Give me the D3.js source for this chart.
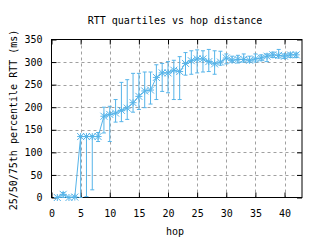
<!DOCTYPE html>
<html><head><meta charset="utf-8">
<script src="https://cdn.jsdelivr.net/npm/d3@7"></script>
<style>html,body{margin:0;padding:0;background:#fff;}svg{display:block;}</style>
</head><body>
<svg id="c" width="320" height="240"></svg>
<script>
const hops = d3.range(1, 43);
const median = [0,7,0,1,135,135,135,135,180,184,187,193,198,210,224,236,238,266,276,276,282,279,297,303,307,307,301,296,300,309,304,306,306,304,307,309,313,316,315,313,316,316];
const q1 = [0,0,0,0,0,2,17,124,143,124,167,168,173,189,195,199,207,217,235,232,217,217,271,273,276,278,279,273,293,296,300,298,300,300,300,303,301,310,309,308,310,310];
const q3 = [0,11,0,3,136,136,137,144,200,202,217,255,261,275,275,278,278,294,297,301,304,312,321,325,327,325,328,325,324,318,313,315,318,313,318,316,318,322,328,318,320,320];
const xTicks = [0,5,10,15,20,25,30,35,40];
const yTicks = [0,50,100,150,200,250,300,350];

const L = 51.5, R = 302, T = 39.5, B = 197.5;
const svg = d3.select("#c");
const font = "'DejaVu Sans Mono', monospace";
const x = d3.scaleLinear().domain([0, 43]).range([L, R]);
const y = d3.scaleLinear().domain([0, 350]).range([B, T]);
const col = "#56b4e9";

// grid
const g = svg.append("g");
g.selectAll(".gx").data(xTicks.filter(d => d > 0)).enter().append("line")
  .attr("x1", d => Math.round(x(d)) + 0.5).attr("x2", d => Math.round(x(d)) + 0.5)
  .attr("y1", T).attr("y2", B)
  .attr("stroke", "#a0a0a0").attr("stroke-dasharray", "3,3");
g.selectAll(".gy").data(yTicks.filter(d => d > 0 && d < 350)).enter().append("line")
  .attr("y1", d => Math.round(y(d)) + 0.5).attr("y2", d => Math.round(y(d)) + 0.5)
  .attr("x1", L).attr("x2", R)
  .attr("stroke", "#a0a0a0").attr("stroke-dasharray", "3,3");

// axes via d3
const ax = svg.append("g").attr("transform", `translate(0,${B})`)
  .call(d3.axisBottom(x).tickValues(xTicks).tickSize(-5).tickPadding(12));
const ay = svg.append("g").attr("transform", `translate(${L},0)`)
  .call(d3.axisLeft(y).tickValues(yTicks).tickSize(-5).tickPadding(9));
const axT = svg.append("g").attr("transform", `translate(0,${T})`)
  .call(d3.axisTop(x).tickValues(xTicks).tickSize(-5).tickFormat(""));
const ayR = svg.append("g").attr("transform", `translate(${R},0)`)
  .call(d3.axisRight(y).tickValues(yTicks).tickSize(-5).tickFormat(""));
[ax, ay, axT, ayR].forEach(a => {
  a.select(".domain").remove();
  a.selectAll("line").attr("stroke", "#000");
  a.selectAll("text").attr("font-family", font).attr("font-size", 10).attr("fill", "#000");
});
svg.append("rect").attr("x", L).attr("y", T).attr("width", R - L).attr("height", B - T)
  .attr("fill", "none").attr("stroke", "#000").attr("stroke-width", 1);

// error bars
const data = hops.map((h, i) => ({h, m: median[i], lo: q1[i], hi: q3[i]}));
const eb = svg.append("g").attr("stroke", col).attr("stroke-width", 1);
data.forEach(d => {
  if (d.hi === d.lo) return;
  const cx = x(d.h);
  eb.append("line").attr("x1", cx).attr("x2", cx).attr("y1", y(d.lo)).attr("y2", y(d.hi));
  eb.append("line").attr("x1", cx - 2).attr("x2", cx + 2).attr("y1", y(d.lo)).attr("y2", y(d.lo));
  eb.append("line").attr("x1", cx - 2).attr("x2", cx + 2).attr("y1", y(d.hi)).attr("y2", y(d.hi));
});

// median line
svg.append("path").datum(data)
  .attr("d", d3.line().x(d => x(d.h)).y(d => y(d.m)))
  .attr("fill", "none").attr("stroke", col).attr("stroke-width", 1);

// asterisk markers
const s = 3.5;
const mk = svg.append("g").attr("stroke", col).attr("stroke-width", 1);
data.forEach(d => {
  const cx = x(d.h), cy = y(d.m);
  mk.append("path").attr("d",
    `M${cx - s},${cy}L${cx + s},${cy}M${cx},${cy - s}L${cx},${cy + s}` +
    `M${cx - s},${cy - s}L${cx + s},${cy + s}M${cx - s},${cy + s}L${cx + s},${cy - s}`);
});

// titles
svg.append("text").attr("x", 175).attr("y", 24).attr("text-anchor", "middle")
  .attr("font-family", font).attr("font-size", 10).text("RTT quartiles vs hop distance");
svg.append("text").attr("x", 175).attr("y", 235).attr("text-anchor", "middle")
  .attr("font-family", font).attr("font-size", 10).text("hop");
svg.append("text").attr("transform", "translate(17,120) rotate(-90)").attr("text-anchor", "middle")
  .attr("font-family", font).attr("font-size", 10).text("25/50/75th percentile RTT (ms)");
</script>
</body></html>
